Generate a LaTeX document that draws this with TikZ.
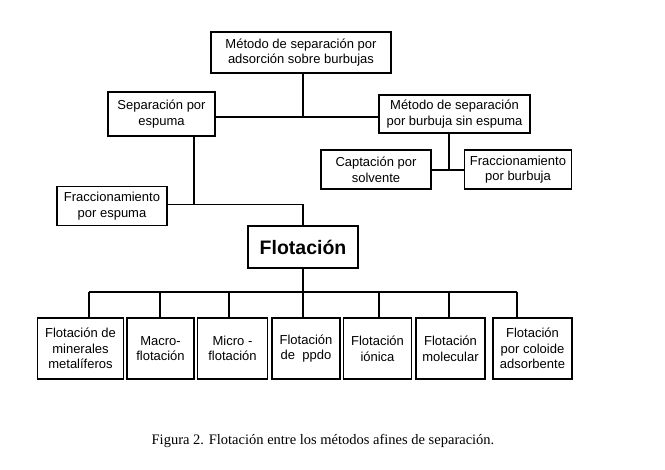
\documentclass[tikz,border=0pt]{standalone}
\usepackage{fontspec}
\setmainfont{Liberation Sans}
\newfontfamily\capfont{Liberation Serif}
\begin{document}
\begin{tikzpicture}[x=1pt,y=-1pt,
  box/.style={draw=black, line width=1.3pt, rectangle, inner sep=0pt, align=center,
    font=\fontsize{13}{15.7}\selectfont},
  conn/.style={draw=black, line width=1.1pt}]
\useasboundingbox[fill=white] (0,0) rectangle (665,470);
% top level
\node[box, minimum width=180, minimum height=41] (top) at (301,52.5) {Método de separación por\\adsorción sobre burbujas};
\node[box, minimum width=107, minimum height=44] (sep) at (161.5,114) {Separación por\\espuma};
\node[box, minimum width=151, minimum height=38] (sin) at (454.5,114) {Método de separación\\por burbuja sin espuma};
\node[box, minimum width=110, minimum height=39] (cap) at (376,169.5) {Captación por\\solvente};
\node[box, minimum width=107, minimum height=39] (fbur) at (518,169.5) {Fraccionamiento\\por burbuja};
\node[box, minimum width=110, minimum height=39] (fesp) at (112,206) {Fraccionamiento\\por espuma};
\node[box, minimum width=110, minimum height=42, font=\fontsize{19.5}{22}\selectfont\bfseries] (flot) at (303,247) {Flotación};
% bottom row
\node[box, minimum width=86, minimum height=61] (b1) at (80.5,348.5) {Flotación de\\minerales\\metalíferos};
\node[box, minimum width=67, minimum height=61] (b2) at (160.5,348.5) {Macro-\\flotación};
\node[box, minimum width=70, minimum height=61] (b3) at (232.5,348.5) {Micro -\\flotación};
\node[box, minimum width=68, minimum height=61] (b4) at (306,348.5) {Flotación\\de~~ppdo};
\node[box, minimum width=68, minimum height=61] (b5) at (377.5,348.5) {Flotación\\iónica};
\node[box, minimum width=69, minimum height=61] (b6) at (450.5,348.5) {Flotación\\molecular};
\node[box, minimum width=79, minimum height=61] (b7) at (532.5,348.5) {Flotación\\por coloide\\adsorbente};
% caption
\node[font=\capfont\fontsize{14.5}{17}\selectfont, inner sep=0pt] (cap2) at (323,441) {Figura 2. Flotación entre los métodos afines de separación.};
% junction coordinates
\coordinate (j1) at (303,117);
\coordinate (j2) at (194,204.5);
\coordinate (j3) at (449,170);
\coordinate (bus) at (303,292);
\coordinate (c1) at (89,292);
\coordinate (c2) at (160,292);
\coordinate (c3) at (229,292);
\coordinate (c4) at (303,292);
\coordinate (c5) at (379,292);
\coordinate (c6) at (449,292);
\coordinate (c7) at (517,292);
% connectors
\draw[conn] (top.south -| j1) -- (j1);
\draw[conn] (sep.east |- j1) -- (sin.west |- j1);
\draw[conn] (sep.south -| j2) -- (j2);
\draw[conn] (fesp.east |- j2) -- (j2 -| flot.north) -- (flot.north);
\draw[conn] (sin.south -| j3) -- (j3);
\draw[conn] (cap.east |- j3) -- (fbur.west |- j3);
\draw[conn] (flot.south) -- (bus);
\draw[conn] (c1) -- (c7);
\draw[conn] (c1) -- (c1 |- b1.north);
\draw[conn] (c2) -- (c2 |- b2.north);
\draw[conn] (c3) -- (c3 |- b3.north);
\draw[conn] (c4) -- (c4 |- b4.north);
\draw[conn] (c5) -- (c5 |- b5.north);
\draw[conn] (c6) -- (c6 |- b6.north);
\draw[conn] (c7) -- (c7 |- b7.north);
\end{tikzpicture}
\end{document}
